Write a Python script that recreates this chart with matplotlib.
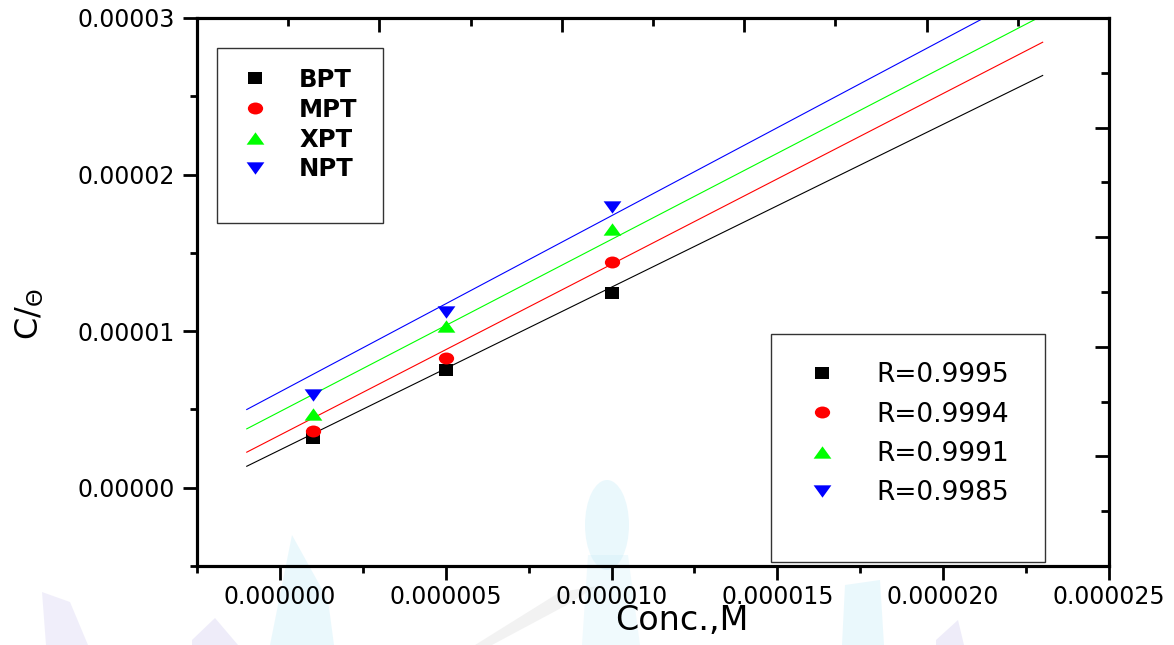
import numpy as np
import matplotlib
matplotlib.use("Agg")
import matplotlib.pyplot as plt
from matplotlib.path import Path
from matplotlib.lines import Line2D
from matplotlib.patches import Rectangle, Polygon, Ellipse
from matplotlib.ticker import MultipleLocator, FormatStrFormatter

# inhibitor concentrations (M) and C/theta values
conc = [1e-6, 5e-6, 1e-5]
bpt = [3.2e-6, 7.5e-6, 1.245e-5]
mpt = [3.6e-6, 8.3e-6, 1.44e-5]
xpt = [4.7e-6, 1.03e-5, 1.65e-5]
npt = [5.9e-6, 1.12e-5, 1.79e-5]

names = ['BPT', 'MPT', 'XPT', 'NPT']
r_values = ['0.9995', '0.9994', '0.9991', '0.9985']

# Langmuir fit lines: slope and intercept of each series
slopes = [1.040, 1.091, 1.100, 1.125]
intercepts = [2.41e-6, 3.36e-6, 4.86e-6, 6.12e-6]
fit_range = [-1e-6, 2.3e-5]

colors = ['black', '#ff0000', '#00ff00', '#0000ff']

# Origin-style markers, a bit wider than tall
sq = Path([(-1.15, -1), (1.15, -1), (1.15, 1), (-1.15, 1), (-1.15, -1)], closed=True)
c = Path.unit_circle()
circ = Path(c.vertices * [1.28, 1.0], c.codes)
tri_up = Path([(0, 1), (-1.44, -1), (1.44, -1), (0, 1)], closed=True)
tri_dn = Path([(0, -1), (-1.44, 1), (1.44, 1), (0, -1)], closed=True)
markers = [sq, circ, tri_up, tri_dn]
msizes = [9.8, 11.0, 12.8, 12.8]

plt.rcParams['font.family'] = ['DejaVu Sans']

W, H = 1174, 645
fig = plt.figure(figsize=(W/100, H/100), dpi=100)


def px(x, y):
    return (x / W, 1 - y / H)


# faint logo in the page background
wm = dict(transform=fig.transFigure, lw=0, zorder=-5)
cyan, lilac, grey = '#c4ecf8', '#cfc9f0', '#d6d6d6'
fig.patches += [
    Polygon([px(292, 535), px(270, 645), px(334, 645), px(328, 600)], fc=cyan, alpha=0.35, **wm),
    Ellipse(px(607, 525), 44/W, 90/H, fc=cyan, alpha=0.35, **wm),
    Polygon([px(588, 555), px(628, 555), px(640, 645), px(582, 645)], fc=cyan, alpha=0.25, **wm),
    Polygon([px(845, 585), px(880, 580), px(884, 645), px(842, 645)], fc=cyan, alpha=0.35, **wm),
    Polygon([px(192, 640), px(215, 618), px(238, 645), px(192, 645)], fc=lilac, alpha=0.35, **wm),
    Polygon([px(42, 592), px(70, 602), px(88, 645), px(46, 645)], fc=lilac, alpha=0.3, **wm),
    Polygon([px(936, 640), px(958, 620), px(964, 645), px(936, 645)], fc=lilac, alpha=0.35, **wm),
    Polygon([px(475, 645), px(560, 592), px(598, 586), px(565, 606), px(492, 645)], fc=grey, alpha=0.3, **wm),
]

ax = fig.add_axes([197/W, 1 - 566/H, 912/W, 548/H])
ax.set_facecolor('none')

series = [bpt, mpt, xpt, npt]
fx = np.array(fit_range)
for ys, m, ms, col, k, b in zip(series, markers, msizes, colors, slopes, intercepts):
    ax.plot(fx, k*fx + b, color=col, lw=0.8, zorder=2)
    ax.plot(conc, ys, ls='none', marker=m, ms=ms, mew=0, color=col, zorder=3)

ax.set_xlim(-2.5e-6, 2.5e-5)
ax.set_ylim(-5e-6, 3e-5)
ax.xaxis.set_major_locator(MultipleLocator(5e-6))
ax.xaxis.set_minor_locator(MultipleLocator(2.5e-6))
ax.yaxis.set_major_locator(MultipleLocator(1e-5))
ax.yaxis.set_minor_locator(MultipleLocator(5e-6))
ax.xaxis.set_major_formatter(FormatStrFormatter('%.6f'))
ax.yaxis.set_major_formatter(FormatStrFormatter('%.5f'))
ax.tick_params(which='major', direction='out', length=10, width=2, labelsize=17, pad=4)
ax.tick_params(which='minor', direction='out', length=5, width=2)
ax.tick_params(axis='y', which='major', pad=6)
for sp in ax.spines.values():
    sp.set_linewidth(2.2)

ax.set_xlabel('Conc.,M', fontsize=24)
ax.xaxis.set_label_coords(0.532, -0.07)
ax.set_ylabel(r'C/$_{\Theta}$', fontsize=23)
ax.yaxis.set_label_coords(-0.166, 0.46)

# extra scales on top and right, ticks only
top = ax.twiny()
top.set_xlim(0, 10)
top.xaxis.set_major_locator(MultipleLocator(2))
top.xaxis.set_minor_locator(MultipleLocator(1))
top.tick_params(axis='x', which='both', direction='in', width=2, labeltop=False)
top.tick_params(axis='x', which='major', length=10)
top.tick_params(axis='x', which='minor', length=6)
right = ax.twinx()
right.set_ylim(0, 5)
right.yaxis.set_major_locator(MultipleLocator(1))
right.yaxis.set_minor_locator(MultipleLocator(0.5))
right.tick_params(axis='y', which='both', direction='in', width=2, labelright=False)
right.tick_params(axis='y', which='major', length=10)
right.tick_params(axis='y', which='minor', length=6)
for a in (top, right):
    for sp in a.spines.values():
        sp.set_linewidth(2.2)

handles = [Line2D([], [], ls='none', marker=m, ms=ms, mew=0, color=col)
           for m, ms, col in zip(markers, msizes, colors)]

# legend frames
for x0, x1, y0, y1 in [(0.0223, 0.2036, 0.6254, 0.9447), (0.6294, 0.9301, 0.0068, 0.4234)]:
    right.add_patch(Rectangle((x0, y0), x1 - x0, y1 - y0, transform=ax.transAxes,
                              fill=True, facecolor='white', edgecolor='#333333',
                              lw=1.0, zorder=4))

leg1 = right.legend(handles, names, loc='upper left', bbox_to_anchor=(0.037, 0.909),
                    frameon=False, borderpad=0, borderaxespad=0, handlelength=2.0,
                    handletextpad=0.81, labelspacing=0.24,
                    prop={'size': 17.5, 'weight': 'bold'})
leg1.set_zorder(5)
right.add_artist(leg1)
leg2 = right.legend(handles, ['R=' + r for r in r_values], loc='upper left',
                    bbox_to_anchor=(0.656, 0.3714), frameon=False, borderpad=0,
                    borderaxespad=0, handlelength=2.0, handletextpad=1.08,
                    labelspacing=0.5, prop={'size': 19})
leg2.set_zorder(5)

fig.savefig('out.png', dpi=100)
